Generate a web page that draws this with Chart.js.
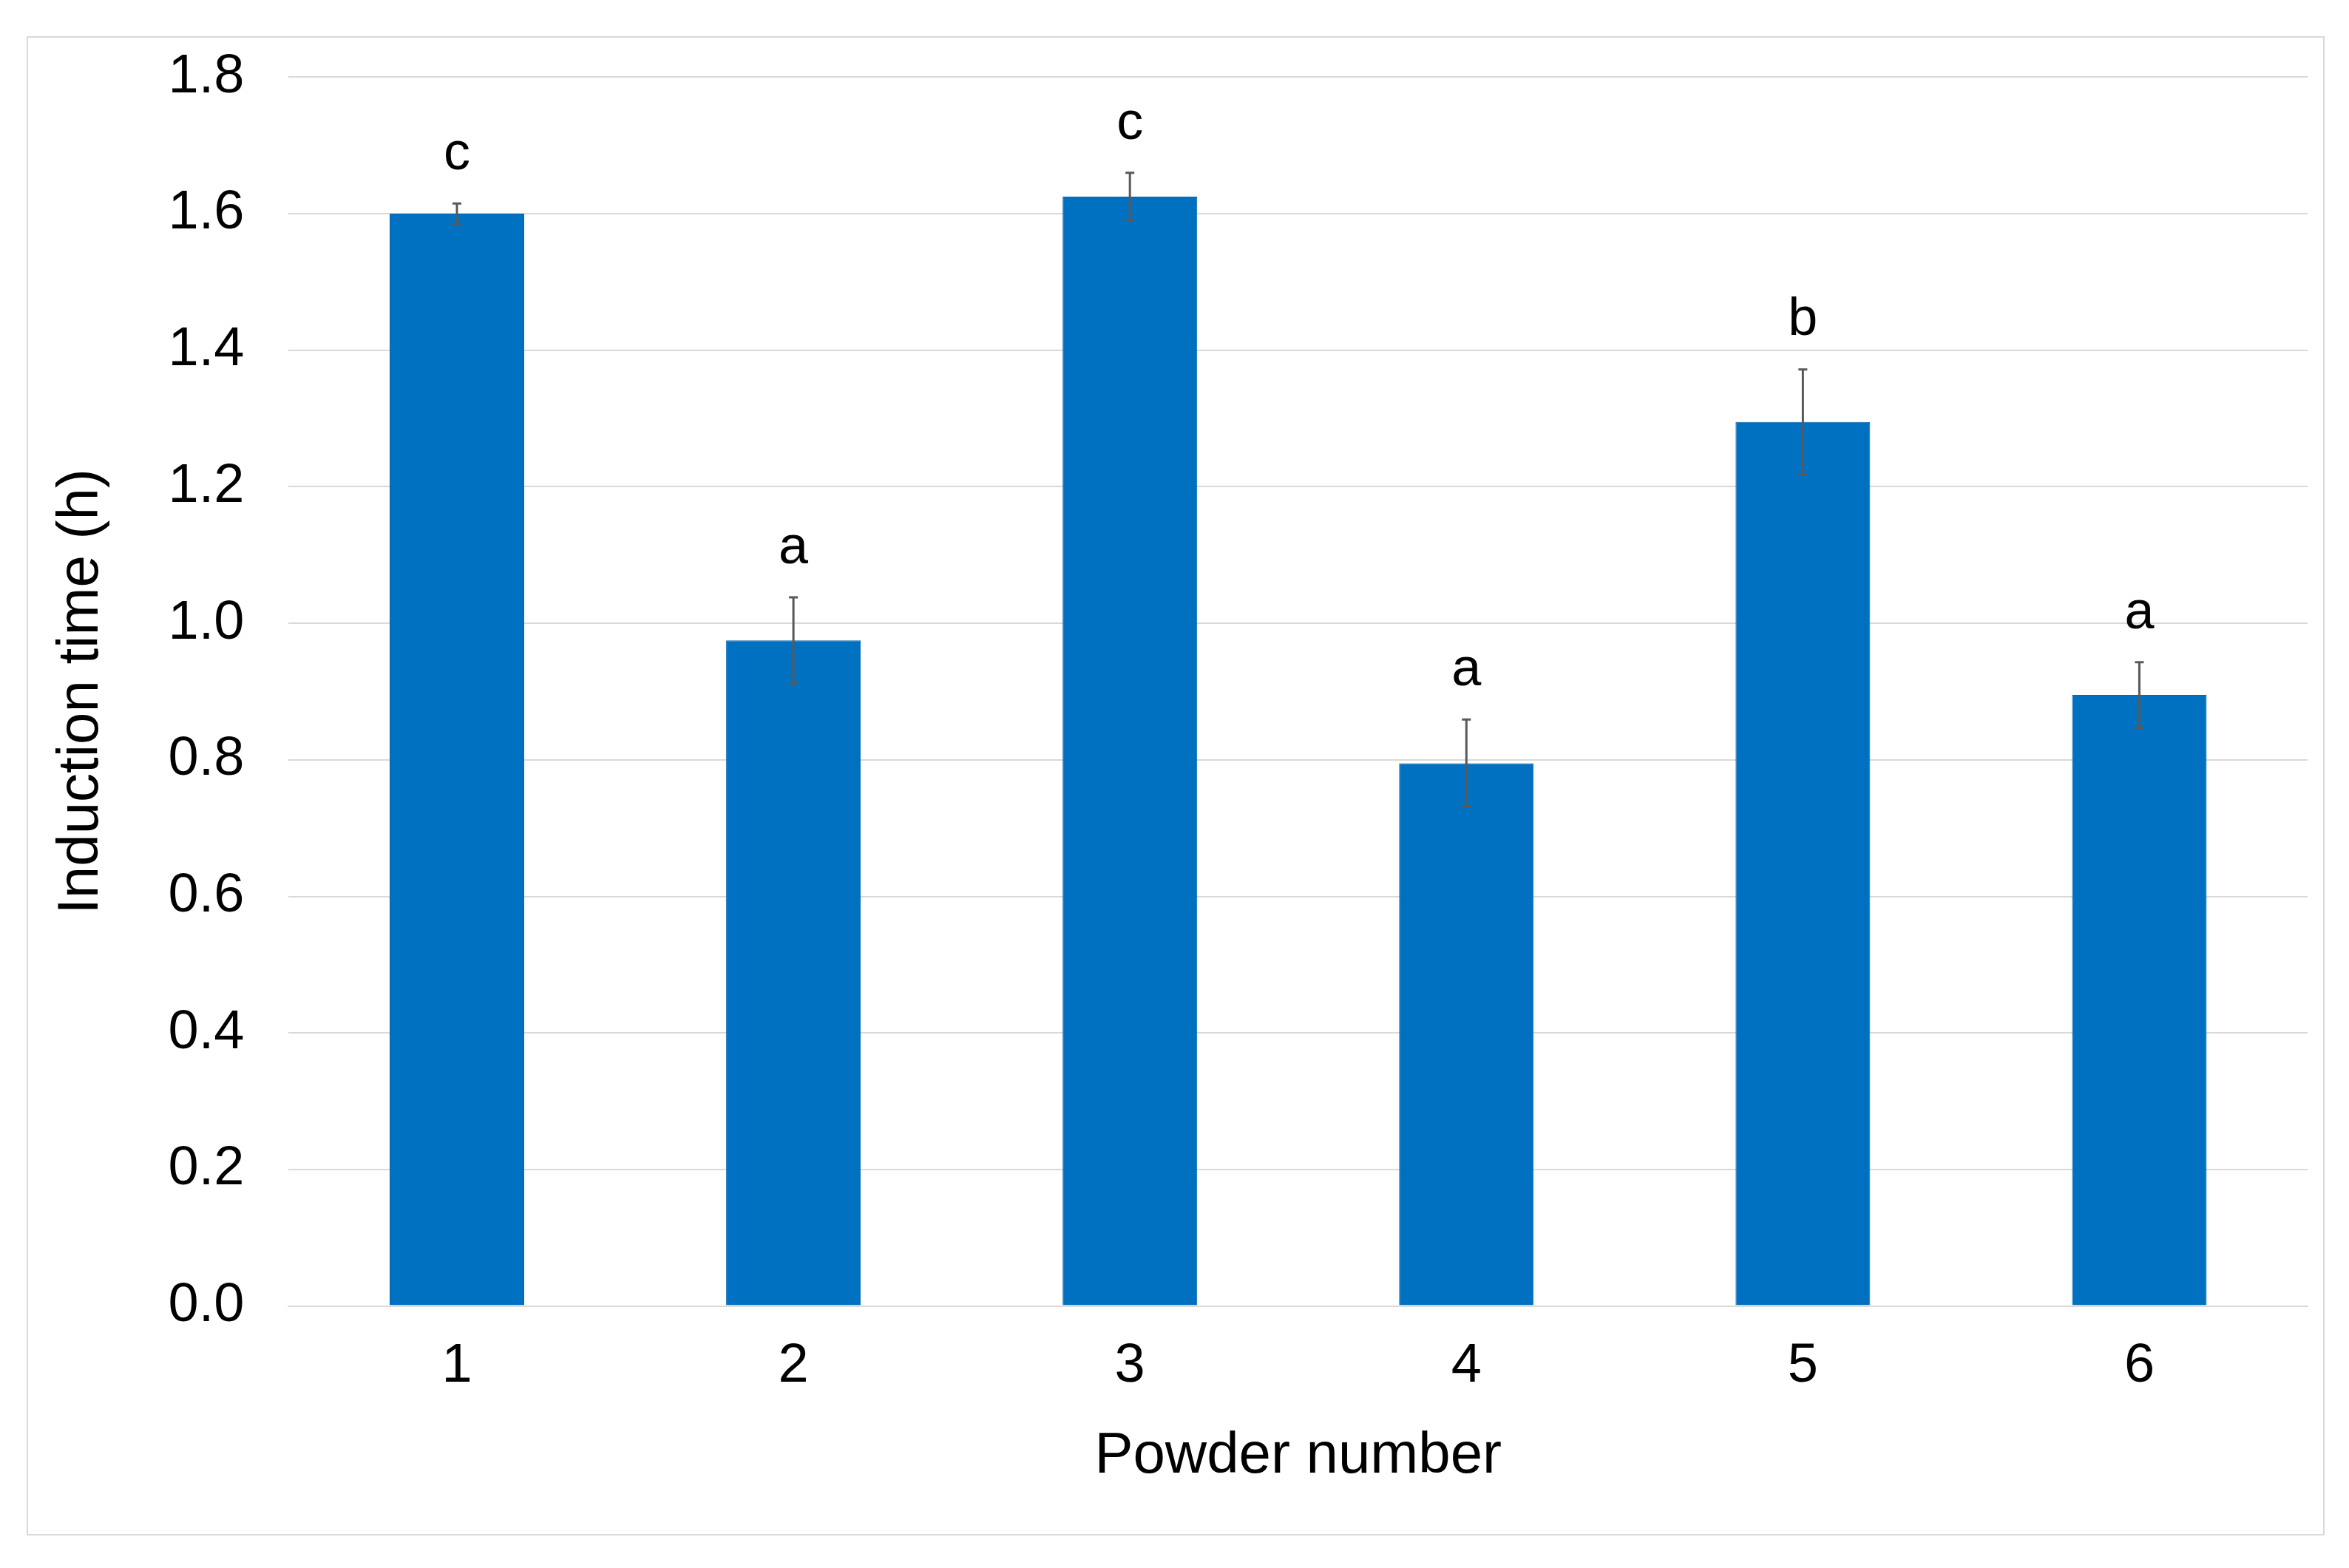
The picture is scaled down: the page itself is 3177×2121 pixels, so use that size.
<!DOCTYPE html>
<html><head><meta charset="utf-8">
<script src="https://cdn.jsdelivr.net/npm/chart.js@4/dist/chart.umd.min.js"></script>
<style>
html,body{margin:0;padding:0;background:#fff;}
#frame{position:absolute;left:36px;top:49px;width:3108px;height:2028px;border:2px solid #d9d9d9;box-sizing:border-box;}
canvas{position:absolute;left:0;top:0;}
</style></head><body>
<div id="frame"></div>
<canvas id="c" width="3177" height="2121"></canvas>
<script>
const categories=['1','2','3','4','5','6'];
const values=[1.60,0.975,1.625,0.795,1.295,0.895];
const errors=[0.015,0.063,0.035,0.064,0.077,0.048];
const letters=['c','a','c','a','b','a'];
const yTicks=[0,0.2,0.4,0.6,0.8,1.0,1.2,1.4,1.6,1.8];

const font="'Liberation Sans', Arial, sans-serif";

const errPlugin={id:'err',afterDatasetsDraw(chart){
  const ctx=chart.ctx, y=chart.scales.y, meta=chart.getDatasetMeta(0);
  ctx.save();
  meta.data.forEach((bar,i)=>{
    const x=bar.x, hi=y.getPixelForValue(values[i]+errors[i]), lo=y.getPixelForValue(values[i]-errors[i]);
    ctx.strokeStyle='#595959'; ctx.lineWidth=3;
    ctx.beginPath();
    ctx.moveTo(x,hi);ctx.lineTo(x,lo);
    ctx.moveTo(x-6,hi);ctx.lineTo(x+6,hi);
    ctx.moveTo(x-6,lo);ctx.lineTo(x+6,lo);
    ctx.stroke();
    ctx.fillStyle='#000'; ctx.font='72px '+font; ctx.textAlign='center'; ctx.textBaseline='bottom';
    ctx.fillText(letters[i],x,hi-30);
  });
  ctx.restore();
}};

new Chart(document.getElementById('c'),{
  type:'bar',
  data:{labels:categories,datasets:[{data:values,backgroundColor:'#0070c0',borderColor:'#0a66b0',borderWidth:1,barPercentage:0.4,categoryPercentage:1}]},
  options:{responsive:false,animation:false,devicePixelRatio:1,
    layout:{padding:{left:60,right:56,top:80,bottom:100}},
    plugins:{legend:{display:false},tooltip:{enabled:false}},
    scales:{
      x:{grid:{display:false},border:{color:'#d9d9d9',width:2},
        ticks:{color:'#000',font:{family:font,size:74},padding:30},
        title:{display:true,text:'Powder number',color:'#000',font:{family:font,size:78},padding:{top:0}}},
      y:{min:0,max:1.8,afterBuildTicks:s=>{s.ticks=yTicks.map(v=>({value:v}));},
        grid:{color:'#d9d9d9',lineWidth:2,drawTicks:false},border:{display:false},
        ticks:{color:'#000',font:{family:font,size:74},padding:60,callback:v=>v.toFixed(1)},
        title:{display:true,text:'Induction time (h)',color:'#000',font:{family:font,size:78},padding:{bottom:10}}}
    }
  },
  plugins:[errPlugin]
});
</script>
</body></html>
